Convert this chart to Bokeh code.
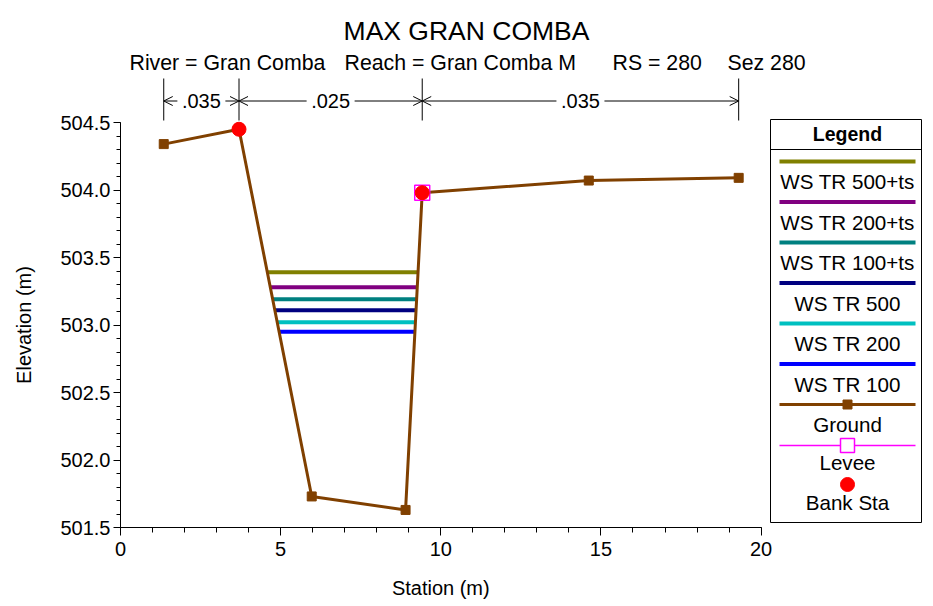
from bokeh.plotting import figure
from bokeh.models import Range1d, LinearAxis, FixedTicker, NumeralTickFormatter, Arrow, OpenHead
from bokeh.embed import file_html
from bokeh.resources import INLINE
from bokeh.core.properties import value

# ---------------- data ----------------
title_text = "MAX GRAN COMBA"
sub_texts = ["River = Gran Comba", "Reach = Gran Comba M", "RS = 280", "Sez 280"]
x_label = "Station (m)"
y_label = "Elevation (m)"

ground_sta = [1.35, 3.70, 5.97, 8.90, 9.42, 14.62, 19.30]
ground_elev = [504.34, 504.45, 501.73, 501.63, 503.98, 504.07, 504.09]

bank_sta = [3.70, 9.42]
bank_elev = [504.45, 503.98]
levee_sta = [9.42]
levee_elev = [503.98]

ws_names = ["WS TR 500+ts", "WS TR 200+ts", "WS TR 100+ts", "WS TR 500", "WS TR 200", "WS TR 100"]
ws_elev = [503.39, 503.28, 503.19, 503.11, 503.02, 502.95]
ws_colors = ["#808000", "#800080", "#008080", "#000080", "#00C0C0", "#0000FF"]

n_values = [".035", ".025", ".035"]
n_breaks = [1.35, 3.70, 9.42, 19.30]

x_ticks = [0, 5, 10, 15, 20]
x_minor = list(range(0, 21))
y_ticks = [501.5, 502.0, 502.5, 503.0, 503.5, 504.0, 504.5]
y_minor = [round(501.5 + 0.1 * i, 1) for i in range(31)]
x_bounds = (0, 20)
y_bounds = (501.5, 504.5)

# ---------------- layout ----------------
FONT = "Liberation Sans"
W, H = 928, 606
LEFT = 120
FRAME_BOTTOM = 527
BOTTOM = H - FRAME_BOTTOM
XS = 32.03   # px per m (x)
YS = 135.0   # px per m (y)
x_end = (W - LEFT) / XS
y_end = 501.5 + FRAME_BOTTOM / YS


def px2x(X):
    return (X - LEFT) / XS


def py2y(Y):
    return 501.5 + (FRAME_BOTTOM - Y) / YS


p = figure(width=W, height=H, output_backend="svg", toolbar_location=None,
           x_range=Range1d(0, x_end), y_range=Range1d(501.5, y_end),
           min_border_left=LEFT, min_border_bottom=BOTTOM,
           min_border_top=0, min_border_right=0,
           x_axis_type=None, y_axis_type=None)
p.outline_line_color = None
p.background_fill_color = "white"
p.border_fill_color = "white"


def style_axis(ax):
    ax.axis_line_color = "black"
    ax.major_tick_line_color = "black"
    ax.minor_tick_line_color = "black"
    ax.major_tick_in = 0
    ax.minor_tick_in = 0
    ax.major_label_text_font = FONT
    ax.major_label_text_font_size = "20px"
    ax.major_label_text_color = "black"


xaxis = LinearAxis(bounds=x_bounds, ticker=FixedTicker(ticks=x_ticks, minor_ticks=x_minor),
                   formatter=NumeralTickFormatter(format="0"))
style_axis(xaxis)
xaxis.major_tick_out = 8
xaxis.minor_tick_out = 5
xaxis.major_label_standoff = 6
p.add_layout(xaxis, "below")

yaxis = LinearAxis(bounds=y_bounds, ticker=FixedTicker(ticks=y_ticks, minor_ticks=y_minor),
                   formatter=NumeralTickFormatter(format="0.0"))
style_axis(yaxis)
yaxis.major_tick_out = 7
yaxis.minor_tick_out = 4
yaxis.major_label_standoff = 3
p.add_layout(yaxis, "left")

# axis titles: one-tick axes placed at the centre of the bounded axes
x_mid = (x_bounds[0] + x_bounds[1]) / 2
y_mid = (y_bounds[0] + y_bounds[1]) / 2
xt = LinearAxis(ticker=FixedTicker(ticks=[x_mid], minor_ticks=[]),
                major_label_overrides={x_mid: x_label})
style_axis(xt)
xt.axis_line_color = None
xt.major_tick_line_color = None
xt.major_tick_out = 0
xt.major_label_standoff = 18
p.add_layout(xt, "below")

yt = LinearAxis(ticker=FixedTicker(ticks=[y_mid], minor_ticks=[]),
                major_label_overrides={y_mid: y_label}, major_label_orientation="vertical")
style_axis(yt)
yt.axis_line_color = None
yt.major_tick_line_color = None
yt.major_tick_out = 0
yt.major_label_standoff = 23
p.add_layout(yt, "left")


# ---------------- water surfaces ----------------
def ws_extent(z):
    il, ir = 1, 4
    xl = ground_sta[il]
    for i in range(il, ir):
        if ground_elev[i] >= z > ground_elev[i + 1]:
            t = (ground_elev[i] - z) / (ground_elev[i] - ground_elev[i + 1])
            xl = ground_sta[i] + t * (ground_sta[i + 1] - ground_sta[i])
            break
    xr = ground_sta[ir]
    for i in range(ir, il, -1):
        if ground_elev[i] >= z > ground_elev[i - 1]:
            t = (ground_elev[i] - z) / (ground_elev[i] - ground_elev[i - 1])
            xr = ground_sta[i] + t * (ground_sta[i - 1] - ground_sta[i])
            break
    return xl, xr


for z, c in zip(ws_elev, ws_colors):
    xl, xr = ws_extent(z)
    p.line([xl, xr], [z, z], line_color=c, line_width=4)

# ground
p.line(ground_sta, ground_elev, line_color="#804000", line_width=3)
p.scatter(ground_sta, ground_elev, marker="square", size=9, fill_color="#804000", line_color="#804000")
# levee and bank stations
p.scatter(levee_sta, levee_elev, marker="square", size=15, fill_color=None, line_color="#FF00FF", line_width=1.5)
p.scatter(bank_sta, bank_elev, marker="circle", size=14, fill_color="#FF0000", line_color="#FF0000")

# ---------------- title texts ----------------
p.text([px2x(466)], [py2y(30)], text=[title_text], text_font=value(FONT), text_font_size="26.5px",
       text_align="center", text_baseline="middle", text_color="black")
sub_x = [129, 344, 612, 727]
p.text([px2x(v) for v in sub_x], [py2y(62)] * 4, text=sub_texts, text_font=value(FONT),
       text_font_size="21.3px", text_align="left", text_baseline="middle", text_color="black")

# ---------------- Manning n annotation ----------------
yv0, yv1, ya = py2y(78), py2y(120), py2y(100.5)
p.segment(n_breaks, [yv0] * len(n_breaks), n_breaks, [yv1] * len(n_breaks), line_color="black", line_width=1)
mid = [(a + b) / 2 for a, b in zip(n_breaks[:-1], n_breaks[1:])]
p.text(mid, [ya] * len(mid), text=n_values, text_font=value(FONT), text_font_size="20px",
       text_align="center", text_baseline="middle", text_color="black")
half = 24 / XS
for a, b, m in zip(n_breaks[:-1], n_breaks[1:], mid):
    for s, e in ((m - half, a), (m + half, b)):
        p.add_layout(Arrow(end=OpenHead(size=9, line_width=1, line_color="black"), start=None,
                           x_start=s, y_start=ya, x_end=e, y_end=ya,
                           line_color="black", line_width=1))

# ---------------- legend ----------------
lx0, lx1 = px2x(770), px2x(921)
p.quad(left=[lx0], right=[lx1], top=[py2y(119)], bottom=[py2y(522)],
       fill_color="white", line_color="black", line_width=1)
p.segment([lx0], [py2y(149)], [lx1], [py2y(149)], line_color="black", line_width=1)
lc = px2x(847)
p.text([lc], [py2y(133)], text=["Legend"], text_font=value(FONT), text_font_size="19.5px",
       text_font_style="bold", text_align="center", text_baseline="middle", text_color="black")
la, lb = px2x(779), px2x(915)
step = 40.5
LFS = "20.6px"
for i, (nm, c) in enumerate(zip(ws_names, ws_colors)):
    yl = 161 + step * i
    p.line([la, lb], [py2y(yl)] * 2, line_color=c, line_width=4)
    p.text([lc], [py2y(yl + 20)], text=[nm], text_font=value(FONT), text_font_size=LFS,
           text_align="center", text_baseline="middle", text_color="black")
yg = 161 + step * 6
p.line([la, lb], [py2y(yg)] * 2, line_color="#804000", line_width=3)
p.scatter([lc], [py2y(yg)], marker="square", size=9, fill_color="#804000", line_color="#804000")
p.text([lc], [py2y(yg + 20)], text=["Ground"], text_font=value(FONT), text_font_size=LFS,
       text_align="center", text_baseline="middle", text_color="black")
ylv = 445
p.line([la, lb], [py2y(ylv)] * 2, line_color="#FF00FF", line_width=1.5)
p.scatter([lc], [py2y(ylv)], marker="square", size=14, fill_color="white", line_color="#FF00FF", line_width=1.5)
p.text([lc], [py2y(ylv + 17)], text=["Levee"], text_font=value(FONT), text_font_size=LFS,
       text_align="center", text_baseline="middle", text_color="black")
ybk = 484
p.scatter([lc], [py2y(ybk)], marker="circle", size=14, fill_color="#FF0000", line_color="#FF0000")
p.text([lc], [py2y(ybk + 18)], text=["Bank Sta"], text_font=value(FONT), text_font_size=LFS,
       text_align="center", text_baseline="middle", text_color="black")

open("out.html", "w").write(file_html(p, INLINE))
